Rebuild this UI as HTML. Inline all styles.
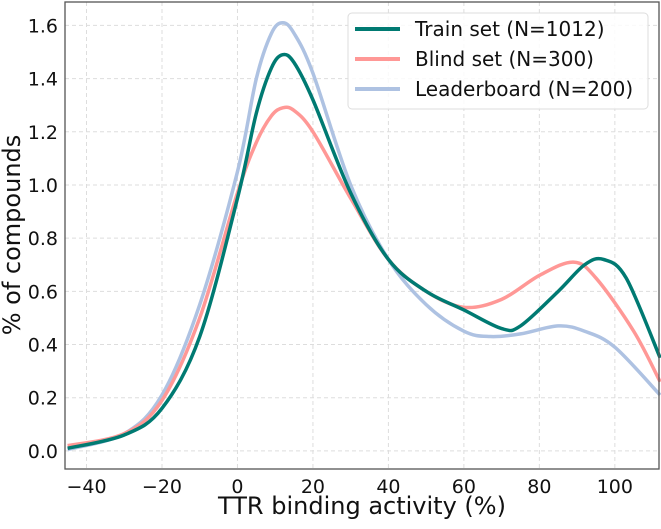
<!DOCTYPE html>
<html><head><meta charset="utf-8"><style>
body{margin:0;background:#fff}
svg text{font-family:"DejaVu Sans","Liberation Sans",sans-serif;fill:#111}
</style></head><body>
<svg id="chart" width="661" height="524" xmlns="http://www.w3.org/2000/svg">
<g id="grid"></g>
<g id="series"></g>
<rect x="65" y="2" width="594" height="467" fill="none" stroke="#555" stroke-width="1.3"/>
<g id="ticks"></g>
<text x="362" y="514" font-size="24" text-anchor="middle">TTR binding activity (%)</text>
<text transform="translate(20,235) rotate(-90)" font-size="24" text-anchor="middle">% of compounds</text>
<g>
<rect x="348" y="13" width="300" height="96" rx="4" fill="#fff" fill-opacity="0.85" stroke="#ddd"/>
<line x1="355" y1="29" x2="400" y2="29" stroke="#007a72" stroke-width="4"/>
<text x="415" y="36" font-size="20">Train set (N=1012)</text>
<line x1="355" y1="59" x2="400" y2="59" stroke="#ff9896" stroke-width="4"/>
<text x="415" y="66" font-size="20">Blind set (N=300)</text>
<line x1="355" y1="89" x2="400" y2="89" stroke="#aec2e2" stroke-width="4"/>
<text x="415" y="96" font-size="20">Leaderboard (N=200)</text>
</g>
</svg>
<script>
const xTicks=[-40,-20,0,20,40,60,80,100];
const yTicks=[0.0,0.2,0.4,0.6,0.8,1.0,1.2,1.4,1.6];
const trainX=[-45,-30,-20,-10,0,5,9,12,15,20,30,40,50,60,70,75,85,92,97,103,112];
const trainY=[0.01,0.06,0.16,0.43,0.95,1.27,1.44,1.49,1.46,1.32,0.97,0.72,0.6,0.53,0.46,0.47,0.6,0.7,0.72,0.65,0.35];
const blindX=[-45,-30,-20,-10,0,5,9,12,15,20,30,40,50,60,70,80,89,95,105,112];
const blindY=[0.02,0.065,0.19,0.5,0.97,1.16,1.26,1.29,1.28,1.2,0.95,0.72,0.6,0.54,0.57,0.66,0.71,0.65,0.45,0.26];
const leadX=[-45,-30,-20,-10,0,5,9,12,15,20,30,40,50,60,67,75,85,92,100,112];
const leadY=[0.005,0.065,0.21,0.55,1.05,1.4,1.57,1.61,1.57,1.42,1.0,0.72,0.55,0.45,0.43,0.44,0.47,0.45,0.39,0.21];
const X0=65,X1=659,Y0=469,Y1=2,xmin=-45.7,xmax=111.7,ymin=-0.068,ymax=1.688;
const sx=v=>X0+(v-xmin)/(xmax-xmin)*(X1-X0);
const sy=v=>Y0-(v-ymin)/(ymax-ymin)*(Y0-Y1);
const NS='http://www.w3.org/2000/svg';
const grid=document.getElementById('grid'),ticks=document.getElementById('ticks'),ser=document.getElementById('series');
function mk(t,a){const e=document.createElementNS(NS,t);for(const k in a)e.setAttribute(k,a[k]);return e;}
xTicks.forEach(v=>{
 const l=mk('line',{x1:sx(v),x2:sx(v),y1:Y1,y2:Y0,stroke:'#ddd','stroke-dasharray':'4,3'});
 
 
 grid.appendChild(l);
 const t=mk('text',{x:sx(v),y:Y0+24,'font-size':'19','text-anchor':'middle'});
 
 
 t.textContent=v<0?'\u2212'+(-v):String(v);ticks.appendChild(t);
});
yTicks.forEach(v=>{
 const l=mk('line',{x1:X0,x2:X1,y1:sy(v),y2:sy(v),stroke:'#ddd','stroke-dasharray':'4,3'});
 
 
 grid.appendChild(l);
 const t=mk('text',{x:X0-7,y:sy(v)+7,'font-size':'19','text-anchor':'end'});
 
 
 t.textContent=v.toFixed(1);ticks.appendChild(t);
});
function path(xs,ys){
 const p=xs.map((x,i)=>[sx(x),sy(ys[i])]);let d='M'+p[0][0]+','+p[0][1];
 for(let i=0;i<p.length-1;i++){const a=p[Math.max(0,i-1)],b=p[i],c=p[i+1],e=p[Math.min(p.length-1,i+2)];
  d+=' C'+(b[0]+(c[0]-a[0])/6)+','+(b[1]+(c[1]-a[1])/6)+' '+(c[0]-(e[0]-b[0])/6)+','+(c[1]-(e[1]-b[1])/6)+' '+c[0]+','+c[1];}
 return d;
}
[[leadX,leadY,'#aec2e2','leaderboard-curve'],[blindX,blindY,'#ff9896','blind-set-curve'],[trainX,trainY,'#007a72','train-set-curve']].forEach(s=>{
 const e=mk('path',{d:path(s[0],s[1]),fill:'none',stroke:s[2],'stroke-width':'3.5'});
 
 
 ser.appendChild(e);
});
</script>
</body></html>
